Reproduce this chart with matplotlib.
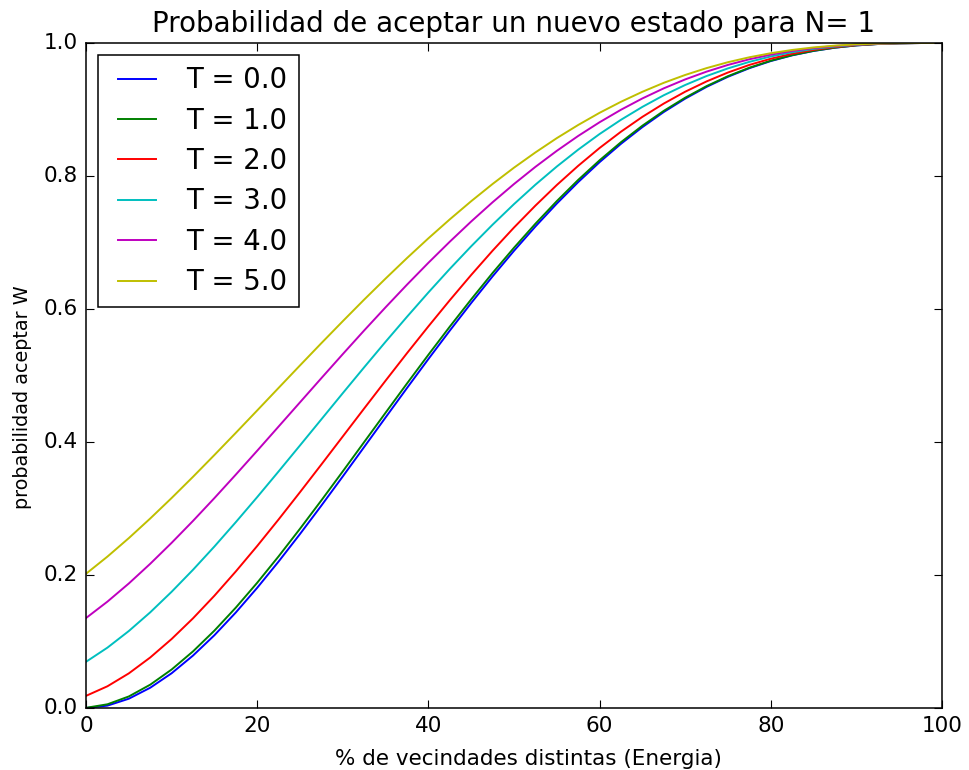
import numpy as np
import matplotlib
matplotlib.use('Agg')
import matplotlib.pyplot as plt

# Percent of distinct neighbourhoods (energy axis)
energia = [0, 2.5, 5, 7.5, 10, 12.5, 15, 17.5, 20, 22.5, 25, 27.5, 30, 32.5, 35, 37.5, 40,
           42.5, 45, 47.5, 50, 52.5, 55, 57.5, 60, 62.5, 65, 67.5, 70, 72.5, 75, 77.5, 80,
           82.5, 85, 87.5, 90, 92.5, 95, 97.5, 100]

temperaturas = [0.0, 1.0, 2.0, 3.0, 4.0, 5.0]

# Acceptance probability W for each temperature
w_t0 = [0.0000, 0.0036, 0.0140, 0.0305, 0.0523, 0.0789, 0.1095, 0.1437, 0.1808, 0.2203,
        0.2617, 0.3045, 0.3483, 0.3926, 0.4370, 0.4812, 0.5248, 0.5675, 0.6090, 0.6491,
        0.6875, 0.7240, 0.7585, 0.7908, 0.8208, 0.8484, 0.8735, 0.8962, 0.9163, 0.9340,
        0.9492, 0.9621, 0.9728, 0.9814, 0.9880, 0.9929, 0.9963, 0.9984, 0.9995, 0.9999, 1.0000]
w_t1 = [0.0003, 0.0056, 0.0174, 0.0351, 0.0579, 0.0852, 0.1164, 0.1510, 0.1884, 0.2281,
        0.2696, 0.3123, 0.3559, 0.4000, 0.4441, 0.4880, 0.5312, 0.5735, 0.6145, 0.6542,
        0.6921, 0.7282, 0.7622, 0.7941, 0.8236, 0.8508, 0.8756, 0.8979, 0.9177, 0.9351,
        0.9501, 0.9628, 0.9733, 0.9817, 0.9882, 0.9930, 0.9964, 0.9984, 0.9995, 0.9999, 1.0000]
w_t2 = [0.0183, 0.0327, 0.0521, 0.0760, 0.1038, 0.1349, 0.1689, 0.2054, 0.2437, 0.2836,
        0.3246, 0.3663, 0.4084, 0.4505, 0.4923, 0.5336, 0.5739, 0.6132, 0.6512, 0.6877,
        0.7225, 0.7554, 0.7864, 0.8153, 0.8421, 0.8666, 0.8889, 0.9089, 0.9267, 0.9422,
        0.9556, 0.9670, 0.9763, 0.9838, 0.9896, 0.9938, 0.9968, 0.9986, 0.9996, 0.9999, 1.0000]
w_t3 = [0.0695, 0.0908, 0.1158, 0.1439, 0.1748, 0.2079, 0.2429, 0.2795, 0.3172, 0.3558,
        0.3949, 0.4342, 0.4735, 0.5124, 0.5508, 0.5883, 0.6249, 0.6603, 0.6943, 0.7268,
        0.7577, 0.7869, 0.8142, 0.8396, 0.8631, 0.8845, 0.9039, 0.9214, 0.9368, 0.9503,
        0.9618, 0.9716, 0.9797, 0.9861, 0.9911, 0.9947, 0.9973, 0.9988, 0.9996, 1.0000, 1.0000]
w_t4 = [0.1353, 0.1600, 0.1873, 0.2169, 0.2484, 0.2814, 0.3157, 0.3510, 0.3869, 0.4233,
        0.4597, 0.4961, 0.5322, 0.5678, 0.6026, 0.6366, 0.6695, 0.7012, 0.7316, 0.7605,
        0.7879, 0.8137, 0.8378, 0.8602, 0.8808, 0.8996, 0.9166, 0.9318, 0.9452, 0.9569,
        0.9670, 0.9755, 0.9824, 0.9880, 0.9923, 0.9955, 0.9976, 0.9990, 0.9997, 1.0000, 1.0000]
w_t5 = [0.2019, 0.2277, 0.2555, 0.2850, 0.3158, 0.3477, 0.3805, 0.4138, 0.4475, 0.4814,
        0.5152, 0.5487, 0.5817, 0.6142, 0.6458, 0.6766, 0.7063, 0.7348, 0.7621, 0.7880,
        0.8125, 0.8354, 0.8569, 0.8767, 0.8950, 0.9116, 0.9266, 0.9401, 0.9519, 0.9622,
        0.9711, 0.9785, 0.9846, 0.9895, 0.9933, 0.9960, 0.9979, 0.9991, 0.9997, 1.0000, 1.0000]

curvas = [w_t0, w_t1, w_t2, w_t3, w_t4, w_t5]
colores = ['b', 'g', 'r', 'c', 'm', 'y']

plt.style.use('classic')
plt.rcParams['font.family'] = 'DejaVu Sans'

fig = plt.figure(figsize=(9.69, 7.70), dpi=100, facecolor='white')
ax = fig.add_axes([0.0888, 0.0805, 0.8833, 0.8637])

for T, w, c in zip(temperaturas, curvas, colores):
    ax.plot(energia, w, color=c, linewidth=1.4, label='T = %.1f' % T)

ax.set_xlim(0, 100)
ax.set_ylim(0, 1.0)
ax.set_xticks([0, 20, 40, 60, 80, 100])
ax.set_yticks([0.0, 0.2, 0.4, 0.6, 0.8, 1.0])
ax.tick_params(direction='in', top=True, right=True, length=5.5, width=0.8,
               labelsize=15.5, pad=6)
for s in ax.spines.values():
    s.set_linewidth(1.1)

ax.set_title('Probabilidad de aceptar un nuevo estado para N= 1', fontsize=20, pad=8)
ax.set_xlabel('% de vecindades distintas (Energia)', fontsize=15.5, labelpad=9)
ax.set_ylabel('probabilidad aceptar W', fontsize=13.8, labelpad=8)
# labels sit a little off the axis centre
ax.xaxis.label.set_x(0.517)
ax.yaxis.label.set_y(0.467)

leg = ax.legend(loc='upper left', fontsize=19.8, frameon=True, fancybox=False,
                handlelength=2.0, handletextpad=0.8, borderpad=0.4,
                labelspacing=0.45, borderaxespad=0.45)
leg.get_frame().set_edgecolor('black')
leg.get_frame().set_linewidth(1.1)

fig.savefig('out.png', dpi=100, facecolor='white')
